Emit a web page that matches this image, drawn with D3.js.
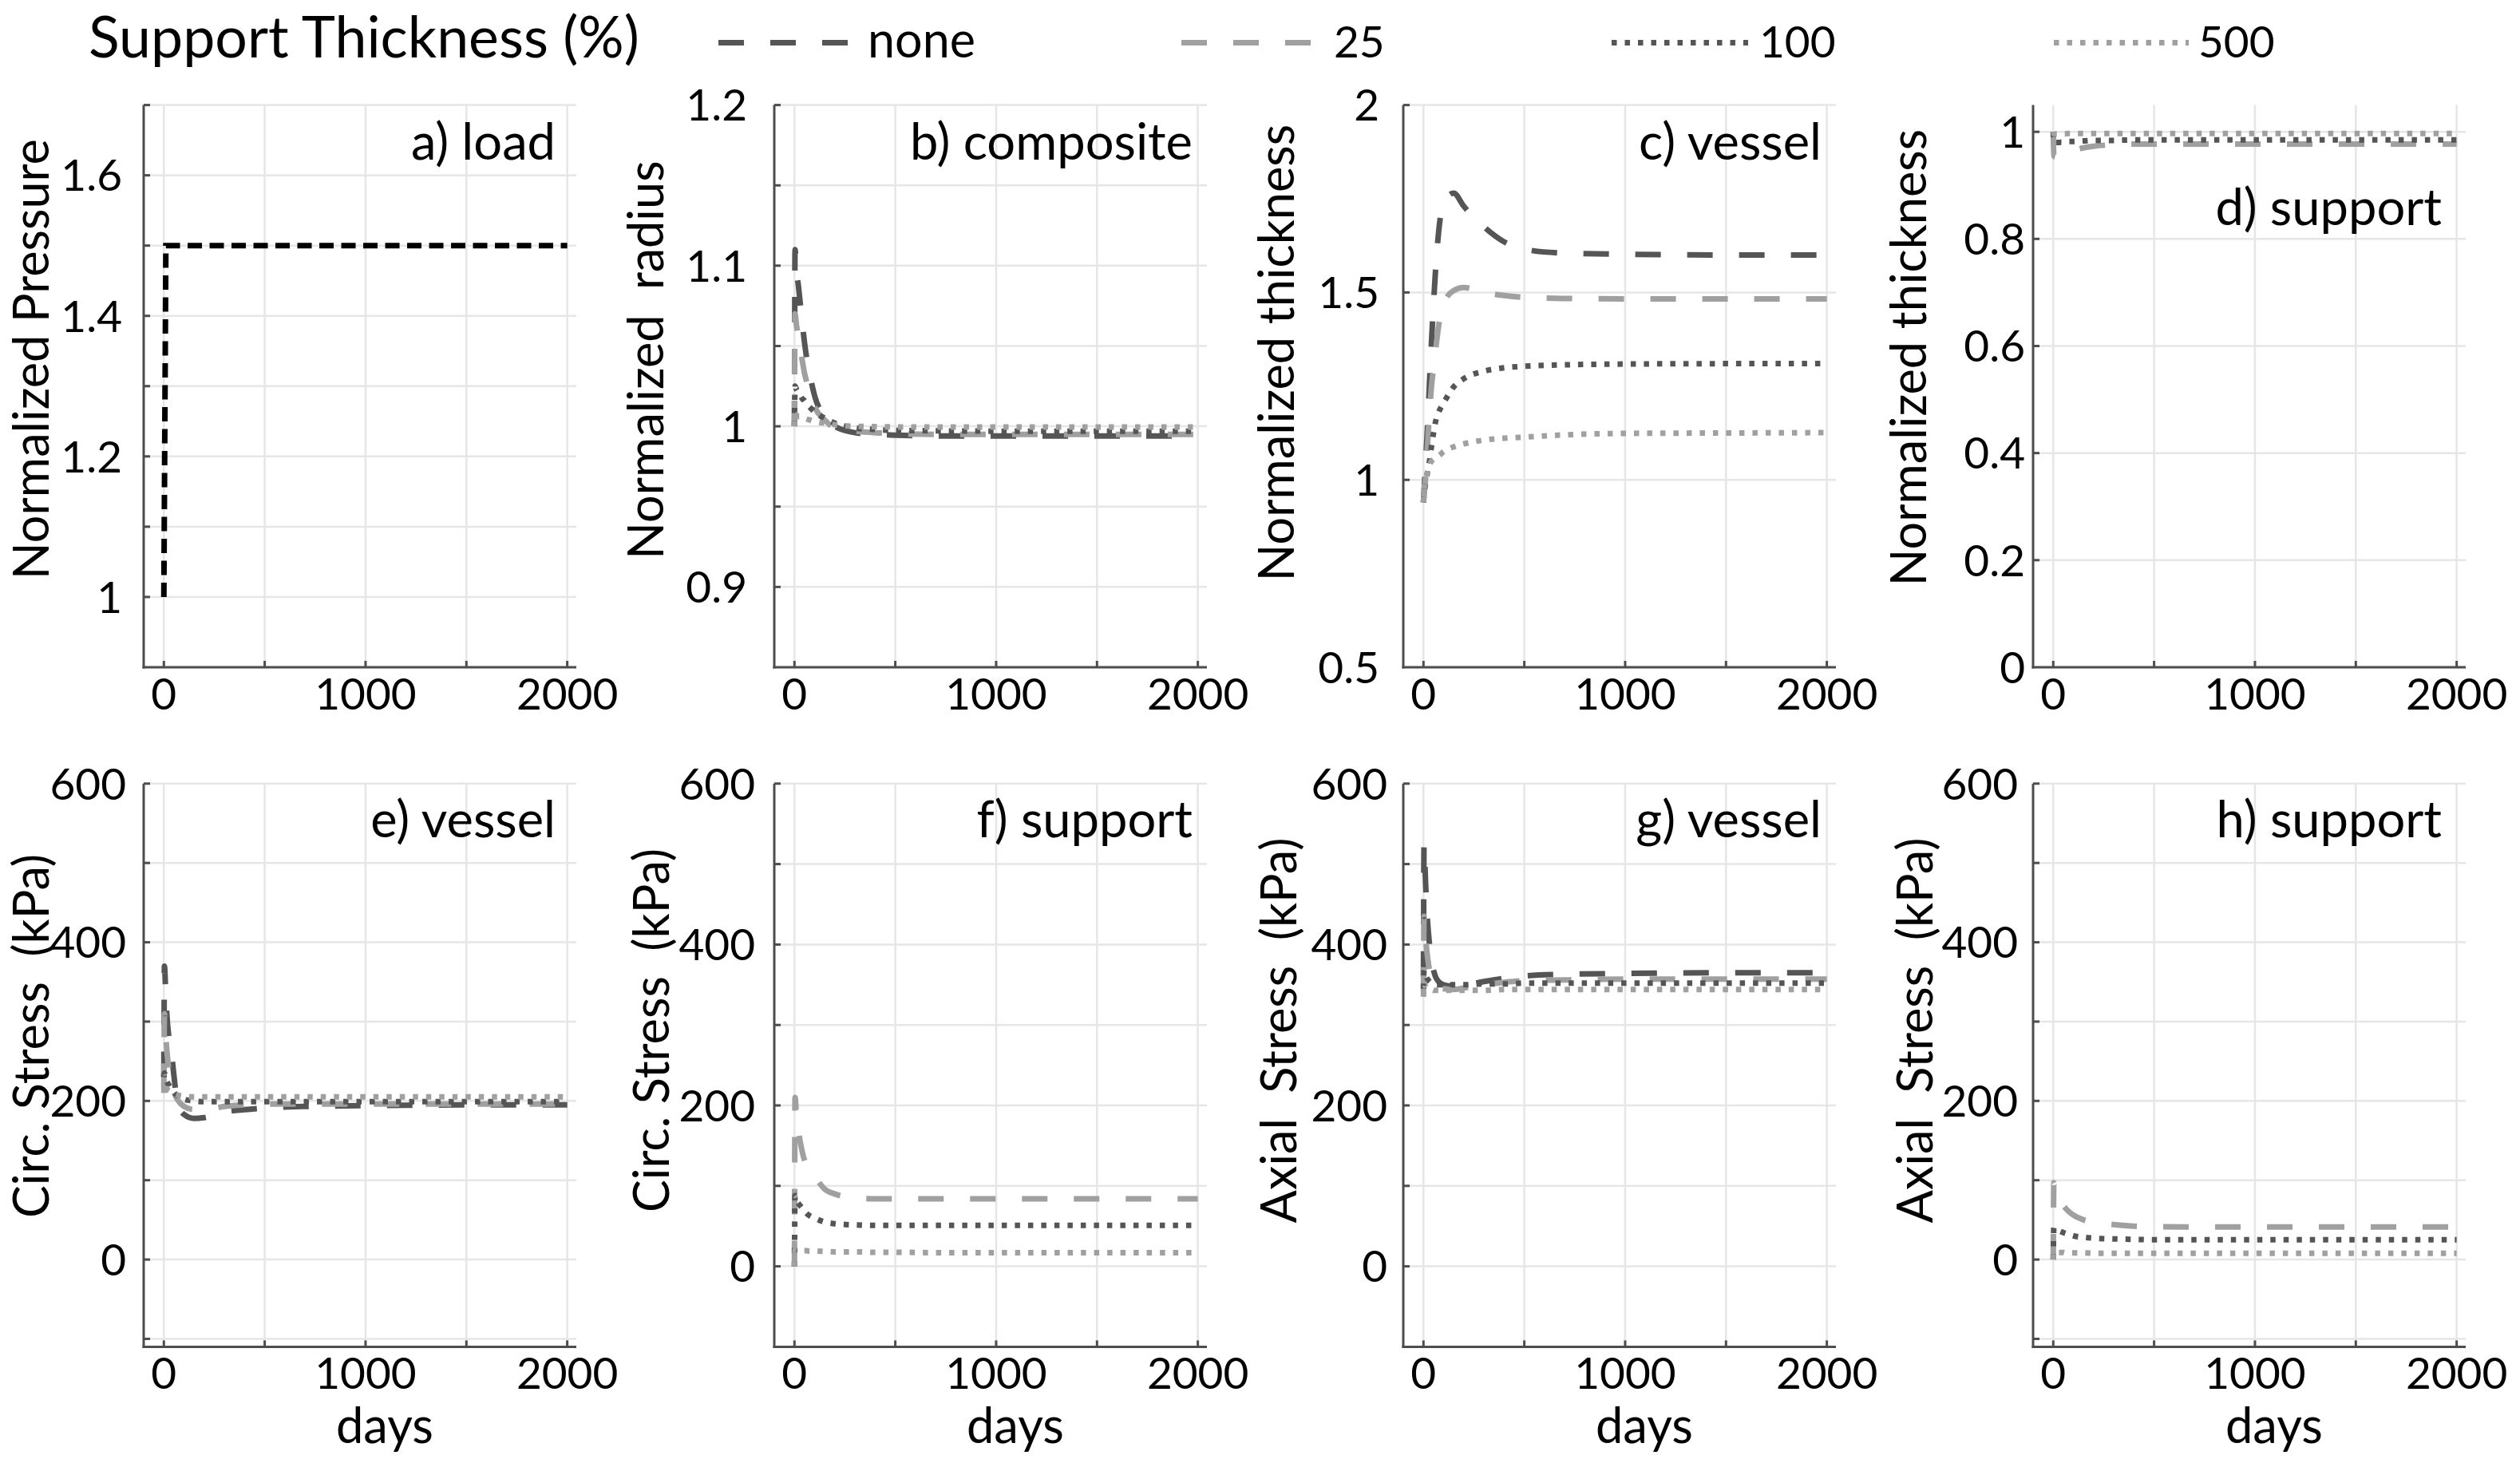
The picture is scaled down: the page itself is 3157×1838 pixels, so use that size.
<!DOCTYPE html>
<html><head><meta charset="utf-8">
<script src="https://cdn.jsdelivr.net/npm/d3@7"></script>
<style>
body{margin:0;background:#fff}
svg text{font-family:Lato,"Open Sans",sans-serif;fill:#000}
</style></head>
<body><svg id="chart" width="3157" height="1838"></svg>
<script>
// ---------------- DATA ----------------
const legendTitle = "Support Thickness (%)";
const seriesNames = ["none", "25", "100", "500"];
const days = [0, 3, 10, 20, 30, 40, 50, 60, 75, 100, 150, 200, 300, 400, 500, 700, 1000, 1500, 2000];

// a) load
const pressureDays = [0, 10, 2000];
const pressure = [1.0, 1.5, 1.5];

// b) composite radius
const radiusNone = [1.0, 1.11, 1.097, 1.087, 1.075, 1.063, 1.052, 1.043, 1.033, 1.019, 1.006, 1.0, 0.996, 0.995, 0.9945, 0.994, 0.994, 0.994, 0.994];
const radius25   = [1.0, 1.07, 1.063, 1.055, 1.047, 1.04, 1.033, 1.028, 1.021, 1.012, 1.004, 0.999, 0.997, 0.996, 0.9955, 0.995, 0.995, 0.995, 0.995];
const radius100  = [1.0, 1.025, 1.023, 1.021, 1.019, 1.017, 1.016, 1.014, 1.012, 1.009, 1.005, 1.002, 0.999, 0.998, 0.9975, 0.9972, 0.997, 0.997, 0.997];
const radius500  = [1.0, 1.008, 1.007, 1.006, 1.006, 1.005, 1.005, 1.0045, 1.004, 1.003, 1.002, 1.001, 1.0, 0.9998, 0.9996, 0.9995, 0.9995, 0.9995, 0.9995];

// c) vessel thickness
const vThickNone = [0.94, 0.97, 1.04, 1.14, 1.26, 1.37, 1.47, 1.56, 1.66, 1.74, 1.765, 1.73, 1.675, 1.635, 1.615, 1.605, 1.602, 1.60, 1.60];
const vThick25   = [0.94, 0.96, 1.0, 1.09, 1.18, 1.25, 1.30, 1.345, 1.41, 1.47, 1.505, 1.513, 1.50, 1.492, 1.487, 1.484, 1.483, 1.483, 1.483];
const vThick100  = [0.94, 0.96, 0.99, 1.02, 1.05, 1.09, 1.125, 1.155, 1.18, 1.205, 1.248, 1.27, 1.29, 1.299, 1.303, 1.307, 1.309, 1.31, 1.31];
const vThick500  = [0.94, 0.97, 1.0, 1.02, 1.04, 1.05, 1.055, 1.06, 1.064, 1.075, 1.088, 1.096, 1.106, 1.111, 1.114, 1.12, 1.124, 1.125, 1.126];

// d) support thickness
const sThick25  = [1.0, 0.955, 0.953, 0.953, 0.954, 0.955, 0.957, 0.959, 0.961, 0.965, 0.970, 0.973, 0.976, 0.977, 0.977, 0.977, 0.977, 0.977, 0.977];
const sThick100 = [1.0, 0.98, 0.98, 0.98, 0.98, 0.981, 0.981, 0.981, 0.982, 0.982, 0.983, 0.984, 0.984, 0.985, 0.985, 0.985, 0.985, 0.985, 0.985];
const sThick500 = [1.0, 0.996, 0.996, 0.996, 0.996, 0.996, 0.996, 0.996, 0.997, 0.997, 0.997, 0.997, 0.997, 0.997, 0.997, 0.997, 0.997, 0.997, 0.997];

// e) vessel circumferential stress (kPa)
const vCircNone = [230, 370, 330, 292, 272, 255, 232, 210, 192, 183, 178, 179, 186, 189, 191, 193, 194, 195, 195];
const vCirc25   = [215, 310, 280, 250, 232, 220, 212, 205, 199, 193, 189, 189, 193, 195, 196, 196, 196, 196, 196];
const vCirc100  = [230, 235, 228, 222, 218, 214, 211, 208, 205, 202, 200, 199, 199, 199, 199, 199, 199, 199, 199];
const vCirc500  = [210, 222, 218, 214, 212, 210, 209, 208, 207, 206, 205, 205, 205, 205, 205, 205, 205, 205, 205];

// f) support circumferential stress (kPa)
const sCirc25  = [0, 210, 188, 168, 153, 141, 132, 126, 120, 112, 96, 90, 85, 84, 84, 84, 84, 84, 84];
const sCirc100 = [0, 88, 82, 78, 75, 72, 69, 66, 63, 60, 55, 53, 51.5, 51, 51, 51, 51, 51, 51];
const sCirc500 = [0, 21, 20.5, 20, 20, 19.5, 19.5, 19.5, 19, 19, 18.5, 18, 18, 17.5, 17.5, 17, 17, 17, 17];

// g) vessel axial stress (kPa)
const vAxNone = [360, 525, 480, 430, 400, 380, 368, 360, 354, 350, 348, 349, 354, 358, 361, 363, 364, 365, 365];
const vAx25   = [340, 435, 410, 385, 368, 358, 352, 348, 346, 345, 344, 346, 350, 353, 355, 356, 357, 357, 357];
const vAx100  = [345, 368, 362, 357, 354, 352, 351, 350, 350, 350, 350, 350, 351, 351, 352, 352, 352, 352, 352];
const vAx500  = [335, 352, 348, 345, 344, 344, 343, 343, 343, 343, 343, 343, 343, 344, 344, 344, 344, 344, 344];

// h) support axial stress (kPa)
const sAx25  = [0, 97, 88, 80, 75, 71, 68, 65, 61, 56, 50, 47, 44, 42, 41.5, 41, 41, 41, 41];
const sAx100 = [0, 40, 38, 37, 36, 35, 34, 33, 32, 30, 28, 27, 26, 25.5, 25, 25, 25, 25, 25];
const sAx500 = [0, 10, 9.5, 9, 9, 9, 9, 8.5, 8.5, 8.5, 8.5, 8, 8, 8, 8, 8, 8, 8, 8];

// ticks
const xGrid = [0, 500, 1000, 1500, 2000];
const xTickLabels = [0, 1000, 2000];
const gridA = [0.9, 1.0, 1.1, 1.2, 1.3, 1.4, 1.5, 1.6, 1.7];
const labelsA = [1, 1.2, 1.4, 1.6];
const gridB = [0.85, 0.9, 0.95, 1.0, 1.05, 1.1, 1.15, 1.2];
const labelsB = [0.9, 1, 1.1, 1.2];
const gridC = [0.5, 1, 1.5, 2];
const labelsC = [0.5, 1, 1.5, 2];
const gridD = [0, 0.2, 0.4, 0.6, 0.8, 1];
const labelsD = [0, 0.2, 0.4, 0.6, 0.8, 1];
const gridStress = [-100, 0, 100, 200, 300, 400, 500, 600];
const labelsStress = [0, 200, 400, 600];

// ---------------- STYLES / LAYOUT ----------------
const DARK = "#555555", LIGHT = "#a0a0a0";
const styles = {
  none: {color: DARK, dash: "32 33"},
  "25": {color: LIGHT, dash: "32 33"},
  "100": {color: DARK, dash: "6.5 10"},
  "500": {color: LIGHT, dash: "6.5 10"},
  load: {color: "#000", dash: "18 9.5"}
};
const LW = 7;
const AXIS = "#4d4d4d", GRID = "#e6e6e6";
const colLeft = [180, 970, 1758, 2547];
const PW = 542;
const rows = [{top: 131.6, bottom: 836}, {top: 981.8, bottom: 1687.4}];

const panels = [
  {col:0,row:0,title:"a) load",tr:696,tb:199.5,ylabel:"Normalized Pressure",lx:-131,ly:450,dom:[0.9,1.7],grid:gridA,labels:labelsA,gap:27,
   series:[{x:pressureDays,y:pressure,s:"load"}]},
  {col:1,row:0,title:"b) composite",tr:1494,tb:199.5,ylabel:"Normalized  radius",lx:-139,ly:451,dom:[0.85,1.2],grid:gridB,labels:labelsB,gap:34,
   series:[{x:days,y:radiusNone,s:"none"},{x:days,y:radius25,s:"25"},{x:days,y:radius100,s:"100"},{x:days,y:radius500,s:"500"}]},
  {col:2,row:0,title:"c) vessel",tr:2282,tb:199.5,ylabel:"Normalized thickness",lx:-137,ly:442,dom:[0.5,2],grid:gridC,labels:labelsC,gap:30,
   series:[{x:days,y:vThickNone,s:"none"},{x:days,y:vThick25,s:"25"},{x:days,y:vThick100,s:"100"},{x:days,y:vThick500,s:"500"}]},
  {col:3,row:0,title:"d) support",tr:3059,tb:282,ylabel:"Normalized thickness",lx:-134,ly:448,dom:[0,1.05],grid:gridD,labels:labelsD,gap:10,
   series:[{x:days,y:sThick25,s:"25"},{x:days,y:sThick100,s:"100"},{x:days,y:sThick500,s:"500"}]},
  {col:0,row:1,title:"e) vessel",tr:696,tb:1049,ylabel:"Circ. Stress  (kPa)",lx:-129,ly:1298,dom:[-110,600],grid:gridStress,labels:labelsStress,gap:22,days:true,
   series:[{x:days,y:vCircNone,s:"none"},{x:days,y:vCirc25,s:"25"},{x:days,y:vCirc100,s:"100"},{x:days,y:vCirc500,s:"500"}]},
  {col:1,row:1,title:"f) support",tr:1494,tb:1049,ylabel:"Circ. Stress  (kPa)",lx:-132,ly:1291,dom:[-100,600],grid:gridStress,labels:labelsStress,gap:24,days:true,
   series:[{x:days,y:sCirc25,s:"25"},{x:days,y:sCirc100,s:"100"},{x:days,y:sCirc500,s:"500"}]},
  {col:2,row:1,title:"g) vessel",tr:2282,tb:1049,ylabel:"Axial  Stress  (kPa)",lx:-134,ly:1291,dom:[-100,600],grid:gridStress,labels:labelsStress,gap:20,days:true,
   series:[{x:days,y:vAxNone,s:"none"},{x:days,y:vAx25,s:"25"},{x:days,y:vAx100,s:"100"},{x:days,y:vAx500,s:"500"}]},
  {col:3,row:1,title:"h) support",tr:3059,tb:1049,ylabel:"Axial  Stress  (kPa)",lx:-126,ly:1291,dom:[-110,600],grid:gridStress,labels:labelsStress,gap:19,days:true,
   series:[{x:days,y:sAx25,s:"25"},{x:days,y:sAx100,s:"100"},{x:days,y:sAx500,s:"500"}]}
];

const svg = d3.select("#chart");

function fitSize(str, target, base = 100) {
  const t = svg.append("text").attr("font-size", base).style("white-space", "pre").text(str);
  const w = t.node().getComputedTextLength();
  t.remove();
  return base * target / w;
}
function ascentOf(fs) {
  const t = svg.append("text").attr("font-size", fs).attr("y", 0).text("Ny(");
  const b = t.node().getBBox();
  t.remove();
  return -b.y;
}
const tickFS = fitSize("2000", 127.5);
const titleFS = fitSize("b) composite", 354);
const ylabFS = fitSize("Normalized Pressure", 552);
const legFS = fitSize(legendTitle, 690);
const noneFS = fitSize("none", 135);
const daysFS = fitSize("days", 122);
const ylabAsc = ascentOf(ylabFS);

const fmt = d3.format("~g");

panels.forEach((p, i) => {
  const left = colLeft[p.col], right = left + PW;
  const top = rows[p.row].top, bottom = rows[p.row].bottom;
  const x = d3.scaleLinear().domain([-100, 2045]).range([left, right]);
  const y = d3.scaleLinear().domain(p.dom).range([bottom, top]);
  const g = svg.append("g");

  g.selectAll(".vg").data(xGrid).join("line")
    .attr("x1", d => x(d)).attr("x2", d => x(d)).attr("y1", top).attr("y2", bottom)
    .attr("stroke", GRID).attr("stroke-width", 2.5);
  g.selectAll(".hg").data(p.grid).join("line")
    .attr("x1", left).attr("x2", right).attr("y1", d => y(d)).attr("y2", d => y(d))
    .attr("stroke", GRID).attr("stroke-width", 2.5);

  const cid = "clip" + i;
  svg.append("clipPath").attr("id", cid).append("rect")
    .attr("x", left).attr("y", top - 5).attr("width", PW).attr("height", bottom - top + 5);

  const lines = g.append("g").attr("clip-path", `url(#${cid})`);
  p.series.forEach(s => {
    const st = styles[s.s];
    const pts = s.x.map((d, k) => [d, s.y[k]]);
    const line = d3.line().x(d => x(d[0])).y(d => y(d[1]))
      .curve(s.s === "load" ? d3.curveLinear : d3.curveMonotoneX);
    lines.append("path").attr("d", line(pts)).attr("fill", "none")
      .attr("stroke", st.color).attr("stroke-width", LW)
      .attr("stroke-dasharray", st.dash).attr("stroke-linecap", "butt");
  });

  g.append("line").attr("x1", left).attr("x2", left).attr("y1", top).attr("y2", bottom + 1.5)
    .attr("stroke", AXIS).attr("stroke-width", 3);
  g.append("line").attr("x1", left - 1.5).attr("x2", right).attr("y1", bottom).attr("y2", bottom)
    .attr("stroke", AXIS).attr("stroke-width", 3);
  g.selectAll(".yt").data(p.grid.filter(d => d > p.dom[0] + 1e-9)).join("line")
    .attr("x1", left).attr("x2", left + 8).attr("y1", d => y(d)).attr("y2", d => y(d))
    .attr("stroke", AXIS).attr("stroke-width", 3);
  g.selectAll(".xt").data(xGrid).join("line")
    .attr("x1", d => x(d)).attr("x2", d => x(d)).attr("y1", bottom).attr("y2", bottom - 8)
    .attr("stroke", AXIS).attr("stroke-width", 3);

  g.selectAll(".yl").data(p.labels).join("text")
    .attr("x", left - p.gap).attr("y", d => y(d)).attr("dy", "0.36em")
    .attr("text-anchor", "end").attr("font-size", tickFS).text(d => fmt(d));
  g.selectAll(".xl").data(xTickLabels).join("text")
    .attr("x", d => x(d)).attr("y", bottom + 53)
    .attr("text-anchor", "middle").attr("font-size", tickFS).text(d => fmt(d));

  g.append("text").attr("x", p.tr).attr("y", p.tb).attr("text-anchor", "end")
    .attr("font-size", titleFS).text(p.title);
  const bx = Math.max(left + p.lx, ylabAsc + 1);
  g.append("text").attr("transform", `translate(${bx},${p.ly}) rotate(-90)`)
    .attr("text-anchor", "middle").attr("font-size", ylabFS)
    .style("white-space", "pre").text(p.ylabel);
  if (p.days) {
    g.append("text").attr("x", x(1000) + 24).attr("y", 1808).attr("text-anchor", "middle")
      .attr("font-size", daysFS).text("days");
  }
});

// legend (baseline kept low enough that no text is clipped by the top edge)
const legBase = Math.ceil(Math.max(ascentOf(legFS), ascentOf(noneFS), ascentOf(tickFS)) + 1);
const legY = legBase - 0.26 * legFS;
svg.append("text").attr("x", 111).attr("y", legBase).attr("font-size", legFS).text(legendTitle);
const legPos = [{x1: 900, x2: 1067, tx: 1087}, {x1: 1480, x2: 1651, tx: 1671},
                {x1: 2019, x2: 2190, tx: 2204}, {x1: 2573, x2: 2742, tx: 2754}];
seriesNames.forEach((n, k) => {
  const st = styles[n], lp = legPos[k];
  svg.append("line").attr("x1", lp.x1).attr("x2", lp.x2).attr("y1", legY).attr("y2", legY)
    .attr("stroke", st.color).attr("stroke-width", LW).attr("stroke-dasharray", st.dash);
  const fs = n === "none" ? noneFS : tickFS;
  svg.append("text").attr("x", lp.tx).attr("y", legBase).attr("font-size", fs).text(n);
});
</script></body></html>
